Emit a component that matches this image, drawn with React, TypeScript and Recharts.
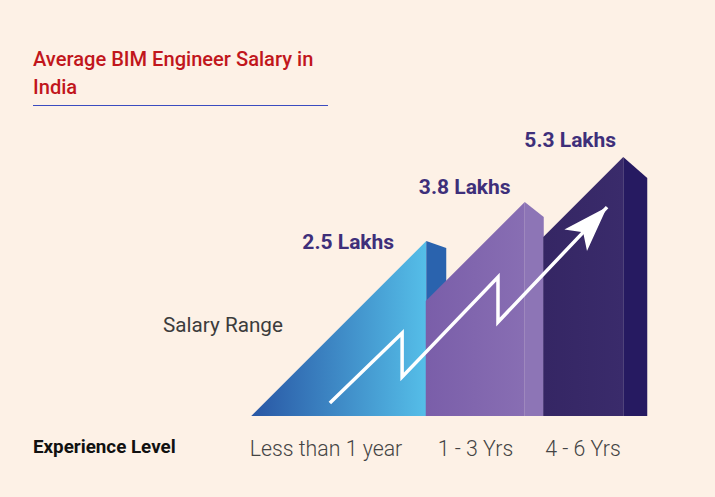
import { ComposedChart, Bar, Line, XAxis, YAxis } from "recharts";

// experience levels and average salary (lakhs per annum)
const LEVELS = ["Less than 1 year", "1 - 3 Yrs", "4 - 6 Yrs"];
const SALARY = [2.5, 3.8, 5.3];

// rising zig-zag arrow, in the chart's own units (x: 0-100, y: lakhs)
const ARROW_X = [27.5, 42.8, 42.8, 63.1, 63.1, 86.2];
const ARROW_Y = [-2.9, -0.57, -2.03, 1.3, -0.2, 3.63];

const Y_MIN = -10 / 3;
const Y_MAX = 7.2;

const data = LEVELS.map((level, i) => ({ level, salary: SALARY[i] }));
const arrow = ARROW_X.map((x, i) => ({ x, y: ARROW_Y[i] }));

const FACES = [
  { from: "#2856a4", to: "#55bee8", side: "#2a63ae", sideW: 20, drop: 7, coverPrev: false },
  { from: "#7a5ea9", to: "#886eb3", side: "#8d75b6", sideW: 19, drop: 15, coverPrev: true },
  { from: "#352664", to: "#3a2b6b", side: "#261a61", sideW: 24, drop: 21, coverPrev: false },
];
const LABEL_POS = [
  { dx: -78, dy: 8 },
  { dx: -60, dy: -8 },
  { dx: -53, dy: -10 },
];
const TICK_DX = [-100, -49, -40];

const PeakShape = (props: any) => {
  const { x, y, width, height, index } = props;
  const f = FACES[index];
  const px = x + width / 2;
  const base = y + height;
  const slopeLeft = px - (base - y);
  let left = slopeLeft;
  if (index > 0) {
    const prevPeak = px - width;
    left = Math.max(slopeLeft, prevPeak + (f.coverPrev ? 0 : FACES[index - 1].sideW));
  }
  const main =
    left <= slopeLeft + 0.5
      ? `${left},${base} ${px},${y} ${px},${base}`
      : `${left},${base} ${left},${y + (px - left)} ${px},${y} ${px},${base}`;
  const side = `${px},${y} ${px + f.sideW},${y + f.drop} ${px + f.sideW},${base} ${px},${base}`;
  const lp = LABEL_POS[index];
  return (
    <g>
      <polygon points={main} fill={`url(#face${index})`} />
      <polygon points={side} fill={f.side} />
      <text
        x={px + lp.dx}
        y={y + lp.dy}
        textAnchor="middle"
        fontFamily="Roboto"
        fontWeight={700}
        fontSize={21}
        fill="#3e2f7a"
      >
        {SALARY[index]} Lakhs
      </text>
    </g>
  );
};

const LevelTick = (props: any) => {
  const { x, payload } = props;
  const i = LEVELS.indexOf(payload.value);
  return (
    <text
      x={x + TICK_DX[i]}
      y={456}
      textAnchor="middle"
      fontFamily="Roboto"
      fontWeight={300}
      fontSize={21.3}
      fill="#444"
    >
      {payload.value}
    </text>
  );
};

export default function App() {
  return (
    <div
      style={{
        position: "absolute",
        left: 0,
        top: 0,
        width: 715,
        height: 497,
        background: "#fdf1e6",
        overflow: "hidden",
      }}
    >
      <ComposedChart
        width={715}
        height={497}
        data={data}
        margin={{ top: 100, right: 42.75, bottom: 0, left: 200 }}
        barCategoryGap={0}
      >
        <defs>
          {FACES.map((f, i) => (
            <linearGradient key={i} id={`face${i}`} x1="0" y1="0" x2="1" y2="0">
              <stop offset="0%" stopColor={f.from} />
              <stop offset="100%" stopColor={f.to} />
            </linearGradient>
          ))}
          <marker
            id="arrowHead"
            markerUnits="userSpaceOnUse"
            markerWidth={60}
            markerHeight={60}
            viewBox="-45 -20 50 40"
            refX={0}
            refY={0}
            orient="auto"
          >
            <path d="M0,0 L-38,-13 L-29,0 L-38,13 Z" fill="#fff" />
          </marker>
        </defs>
        <XAxis
          dataKey="level"
          height={81}
          padding={{ left: 176.75, right: 0 }}
          axisLine={false}
          tickLine={false}
          tick={<LevelTick />}
          interval={0}
        />
        <XAxis xAxisId="arrow" dataKey="x" type="number" domain={[0, 100]} allowDataOverflow hide />
        <YAxis type="number" domain={[Y_MIN, Y_MAX]} allowDataOverflow hide />
        <Bar
          dataKey={(d: any) => [Y_MIN, d.salary]}
          shape={<PeakShape />}
          isAnimationActive={false}
        />
        <Line
          xAxisId="arrow"
          data={arrow}
          dataKey="y"
          type="linear"
          stroke="#ffffff"
          strokeWidth={3.5}
          strokeLinejoin="miter"
          dot={false}
          activeDot={false}
          markerEnd="url(#arrowHead)"
          isAnimationActive={false}
        />
      </ComposedChart>
      <svg
        width={715}
        height={497}
        style={{ position: "absolute", left: 0, top: 0, pointerEvents: "none" }}
      >
        <g fontFamily="Roboto" fill="#c1161c" fontWeight={500} fontSize={20.1}>
          <text x={33} y={66}>Average BIM Engineer Salary in</text>
          <text x={33} y={94}>India</text>
        </g>
        <line x1={33} x2={328} y1={105.5} y2={105.5} stroke="#3b4cc0" strokeWidth={1} />
        <text x={163} y={332} fontFamily="Roboto" fontSize={20.7} fill="#3c3c3c">
          Salary Range
        </text>
        <text x={33} y={453} fontFamily="Roboto" fontWeight={700} fontSize={18.8} fill="#111">
          Experience Level
        </text>
      </svg>
    </div>
  );
}
